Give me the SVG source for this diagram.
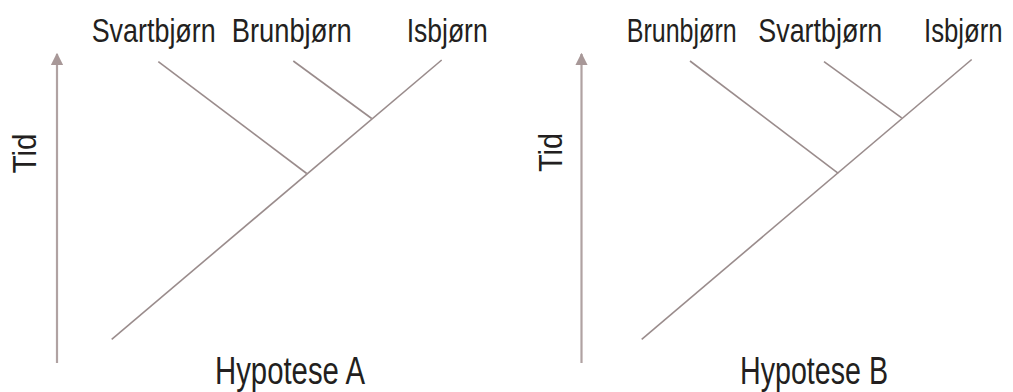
<svg xmlns="http://www.w3.org/2000/svg" width="1013" height="392" viewBox="0 0 1013 392">
<style>
.lbl{font-family:"Liberation Sans",Arial,sans-serif;font-size:33px;fill:#231f20;}
.hyp{font-family:"Liberation Sans",Arial,sans-serif;font-size:39px;fill:#231f20;}
.br{stroke:#9a8c8c;stroke-width:1.6;fill:none;}
.ax{stroke:#b0a2a2;stroke-width:2.2;fill:none;}
</style>
<defs>
<marker id="ah" viewBox="0 0 10 10" refX="9" refY="5" markerWidth="5.5" markerHeight="5.5" orient="auto" markerUnits="strokeWidth">
<path d="M0,0 L10,5 L0,10 Z" fill="#a89898"/>
</marker>
</defs>
<rect width="1013" height="392" fill="#fff"/>
<g id="connectors">
<line class="ax" x1="57" y1="363" x2="57" y2="54" marker-end="url(#ah)"/>
<line class="ax" x1="581.5" y1="363" x2="581.5" y2="54" marker-end="url(#ah)"/>
<line class="br" x1="111.7" y1="339.3" x2="441.7" y2="60"/>
<line class="br" x1="158.3" y1="61.7" x2="306.7" y2="173.5"/>
<line class="br" x1="293.3" y1="61" x2="371.7" y2="118.5"/>
<line class="br" x1="641.7" y1="339.3" x2="971.7" y2="59.5"/>
<line class="br" x1="690" y1="61" x2="838.3" y2="173.3"/>
<line class="br" x1="824" y1="61.7" x2="901.7" y2="117.8"/>
</g>
<g id="hypoteseA">
<text id="a-svart" class="lbl" x="91.7" y="41.5" textLength="124" lengthAdjust="spacingAndGlyphs">Svartbjørn</text>
<text id="a-brun" class="lbl" x="231.7" y="41.5" textLength="120" lengthAdjust="spacingAndGlyphs">Brunbjørn</text>
<text id="a-is" class="lbl" x="406.7" y="41.5" textLength="81" lengthAdjust="spacingAndGlyphs">Isbjørn</text>
<text id="a-tid" class="lbl" transform="translate(36,173.5) rotate(-90)" textLength="40" lengthAdjust="spacingAndGlyphs">Tid</text>
<text id="a-hyp" class="hyp" x="215" y="383.5" textLength="150" lengthAdjust="spacingAndGlyphs">Hypotese A</text>
</g>
<g id="hypoteseB">
<text id="b-brun" class="lbl" x="626.7" y="41.5" textLength="110" lengthAdjust="spacingAndGlyphs">Brunbjørn</text>
<text id="b-svart" class="lbl" x="758.3" y="41.5" textLength="124" lengthAdjust="spacingAndGlyphs">Svartbjørn</text>
<text id="b-is" class="lbl" transform="translate(924,41.5) scale(0.78,1)">Isbjørn</text>
<text id="b-tid" class="lbl" transform="translate(561.5,172) rotate(-90)" textLength="39" lengthAdjust="spacingAndGlyphs">Tid</text>
<text id="b-hyp" class="hyp" x="740" y="383.5" textLength="148" lengthAdjust="spacingAndGlyphs">Hypotese B</text>
</g>
</svg>
